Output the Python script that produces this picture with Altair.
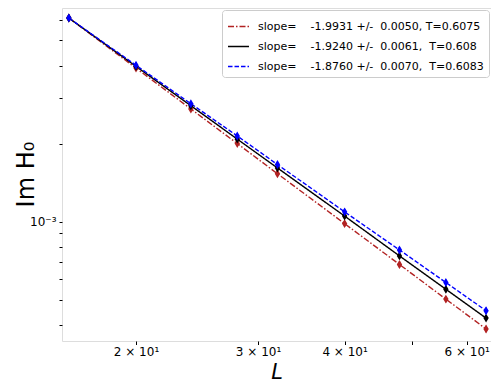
import altair as alt
import pandas as pd

# ---- data ----
L = [16, 20, 24, 28, 32, 40, 48, 56, 64]

im_red = [6.10e-3, 3.91e-3, 2.72e-3, 2.00e-3, 1.53e-3, 9.82e-4, 6.83e-4, 5.02e-4, 3.85e-4]
im_black = [6.10e-3, 3.97e-3, 2.80e-3, 2.08e-3, 1.61e-3, 1.05e-3, 7.37e-4, 5.48e-4, 4.24e-4]
im_blue = [6.10e-3, 4.01e-3, 2.85e-3, 2.14e-3, 1.66e-3, 1.09e-3, 7.77e-4, 5.82e-4, 4.53e-4]

err_red = [1.2e-4, 8e-5, 6e-5, 4e-5, 3.5e-5, 2.5e-5, 1.8e-5, 1.4e-5, 1.1e-5]
err_black = [1.2e-4, 8e-5, 6e-5, 4.5e-5, 3.5e-5, 2.5e-5, 1.8e-5, 1.4e-5, 1.1e-5]
err_blue = [1.3e-4, 9e-5, 7e-5, 5e-5, 4e-5, 3e-5, 2e-5, 1.6e-5, 1.3e-5]

legend_labels = [
    "slope=    -1.9931 +/-  0.0050, T=0.6075",
    "slope=    -1.9240 +/-  0.0061,  T=0.608",
    "slope=    -1.8760 +/-  0.0070,  T=0.6083",
]
series_colors = ["#b22222", "#000000", "#0000ff"]
series_dashes = [[6, 2, 1.5, 2], [1, 0], [4.5, 2]]

xtick_values = [20, 30, 40, 50, 60]
xtick_labels = ["2 × 10¹", "3 × 10¹", "4 × 10¹", "", "6 × 10¹"]
ytick_values = [4e-4, 5e-4, 6e-4, 7e-4, 8e-4, 9e-4, 1e-3, 2e-3, 3e-3, 4e-3, 5e-3, 6e-3]
ytick_labels = {1e-3: "10⁻³"}

# ---- build table ----
labels = [s.replace(" ", "\u00a0") for s in legend_labels]
rows = []
for lab, vals, errs in zip(labels, [im_red, im_black, im_blue], [err_red, err_black, err_blue]):
    for l, v, e in zip(L, vals, errs):
        rows.append({"L": l, "im": v, "lo": v - e, "hi": v + e, "series": lab})
df = pd.DataFrame(rows)

x_expr = " : ".join(
    f"datum.value == {v} ? '{t}'" for v, t in zip(xtick_values, xtick_labels)
) + " : ''"
y_expr = " : ".join(f"datum.value == {v} ? '{t}'" for v, t in ytick_labels.items()) + " : ''"

xs = alt.Scale(type="log", domain=[15.64, 65.06], nice=False)
ys = alt.Scale(type="log", domain=[3.46e-4, 6.67e-3], nice=False)

x_axis = alt.Axis(
    values=xtick_values, labelExpr=x_expr, title="L", titleFont="DejaVu Sans",
    titleFontStyle="italic", titleFontWeight="normal", titleFontSize=21,
    titleColor="black", labelFont="DejaVu Sans", labelFontSize=12,
    labelColor="black", tickColor="black", tickSize=3.5, grid=False,
    domain=False, labelOverlap=False, labelPadding=2, titlePadding=4,
)
y_axis = alt.Axis(
    values=ytick_values, labelExpr=y_expr, title="Im H₀", titleFont="DejaVu Sans",
    titleFontWeight="normal", titleFontSize=24, titleColor="black",
    labelFont="DejaVu Sans", labelFontSize=12, labelColor="black",
    tickColor="black", tickSize=3, grid=False, domain=False,
    labelOverlap=False, labelPadding=3, titleX=-29, titleY=166,
    titleBaseline="alphabetic",
)

legend = alt.Legend(
    orient="top-right", title=None, symbolType="stroke", symbolSize=440,
    symbolStrokeWidth=1.5, labelFont="DejaVu Sans", labelFontSize=11,
    labelColor="black", labelLimit=400, fillColor="white",
    strokeColor="#cccccc", cornerRadius=3, padding=5, offset=2,
    rowPadding=3, labelOffset=8,
)

color = alt.Color("series:N", sort=labels,
                  scale=alt.Scale(domain=labels, range=series_colors), legend=legend)
dash = alt.StrokeDash("series:N", sort=labels,
                      scale=alt.Scale(domain=labels, range=series_dashes), legend=legend)
color_nl = alt.Color("series:N", scale=alt.Scale(domain=labels, range=series_colors), legend=None)

base = alt.Chart(df)
x = alt.X("L:Q", scale=xs, axis=x_axis)
y = alt.Y("im:Q", scale=ys, axis=y_axis)

lines = base.mark_line(strokeWidth=1.4, clip=True).encode(x=x, y=y, color=color, strokeDash=dash)
bars = base.mark_rule(strokeWidth=1.4).encode(x=x, y=alt.Y("lo:Q", scale=ys), y2="hi:Q", color=color_nl)
pts = base.mark_point(
    shape="M0,-1L0.6,0L0,1L-0.6,0Z", filled=True, size=80, opacity=1
).encode(x=x, y=y, color=color_nl)

chart = alt.layer(lines, bars, pts).properties(
    width=429, height=333,
    autosize=alt.AutoSizeParams(type="none"),
    padding={"left": 54, "top": 0, "right": 0, "bottom": 50},
).configure_view(stroke="black", strokeWidth=1).configure(background="white")

chart.save("out.html", embed_options={"renderer": "svg", "actions": False})
